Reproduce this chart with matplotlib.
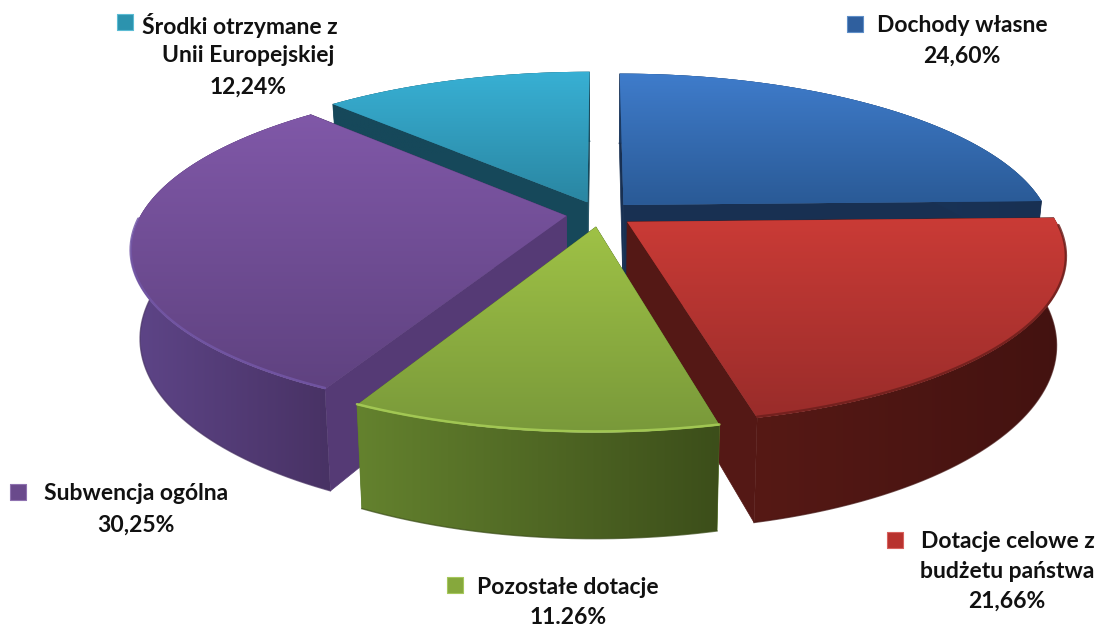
import numpy as np
import matplotlib
matplotlib.use("Agg")
import matplotlib.pyplot as plt
from matplotlib.colors import LinearSegmentedColormap, to_rgb
from matplotlib.patches import Polygon
from matplotlib.path import Path
from matplotlib.transforms import Transform, Affine2D

# ---- data ----
categories = ["Dochody własne", "Dotacje celowe z\nbudżetu państwa", "Pozostałe dotacje",
              "Subwencja ogólna", "Środki otrzymane z\nUnii Europejskiej"]
values = [24.60, 21.66, 11.26, 30.25, 12.24]
value_labels = ["24,60%", "21,66%", "11.26%", "30,25%", "12,24%"]
explode = [0.08, 0.08, 0.08, 0.08, 0.08]

# ---- style ----
W, H = 1101, 627
top_colors = [("#3f7ccb", "#2a5a96"), ("#ca3b36", "#992c2a"), ("#9fc246", "#79993a"),
              ("#8058a8", "#5f4280"), ("#38b0d4", "#2a86a2")]
radial_colors = ["#183052", "#541815", "#5a7a2a", "#553a75", "#16485a"]
outer_colors = [("#1c3a62", "#183052"), ("#561915", "#431210"), ("#64822e", "#3c4e1a"),
                ("#5e4588", "#483264"), ("#16485a", "#16485a")]
rim_colors = ["#4a88d0", "#6e1f1c", "#a9cf58", "#7357a6", "#44bcdc"]
key_colors = ["#2f5f9e", "#b8322e", "#86a83c", "#6a4a8c", "#2c93ae"]
key_edges = ["#5f8fc8", "#d8625e", "#a6c85c", "#8f72b0", "#5cbcd4"]
CX, CY, RX, RY, K, DEPTH = 600.0, 214.0, 425.0, 160.0, 0.194, 84.0
BOTTOM_SHRINK = 0.98

key_xy = [(855, 24), (895, 540), (455, 585), (18, 492), (125, 22)]
# first-line x, other-lines x, first-line y, line step
label_pos = [(962, 962, 26, 30), (1008, 1007, 541, 30), (568, 568, 588, 30),
             (136, 136, 494, 31), (240, 248, 25, 31)]
FONT = "Lato"


def project(x, y, z=0.0):
    x, y = np.asarray(x, float), np.asarray(y, float)
    w = 1 + K * y
    s = 1 - (1 - BOTTOM_SHRINK) * z
    return CX + s * RX * x / w, CY - RY * y / w + DEPTH * z / w


class Perspective(Transform):
    input_dims = output_dims = 2
    is_affine = False
    has_inverse = False

    def transform_non_affine(self, values):
        sx, sy = project(values[:, 0], values[:, 1])
        return np.column_stack([sx, sy])

    def transform_path_non_affine(self, path):
        polys = path.transformed(Affine2D().scale(2000)).to_polygons()
        v = np.vstack(polys) / 2000.0
        return Path(self.transform_non_affine(v), closed=True)


def cmap2(a, b):
    return LinearSegmentedColormap.from_list("g", [to_rgb(a), to_rgb(b)])


def gradient_fill(ax, clip, x0, x1, y0, y1, a, b, vertical, z):
    arr = np.linspace(0, 1, 256)
    arr = arr[:, None] if vertical else arr[None, :]
    im = ax.imshow(arr, cmap=cmap2(a, b), extent=(x0, x1, y1, y0), origin="upper",
                   aspect="auto", zorder=z, interpolation="bilinear")
    im.set_clip_path(clip)
    return im


fig = plt.figure(figsize=(W / 100, H / 100), dpi=100)
ax = fig.add_axes([0, 0, 1, 1])
wedges, _ = ax.pie(values, explode=explode, startangle=90, counterclock=False, radius=1.0)
ax.set_aspect("auto")
ax.set_xlim(0, W)
ax.set_ylim(H, 0)
ax.axis("off")

persp = Perspective()
order = [4, 0, 3, 1, 2]  # painter's order, back to front
for rank, i in enumerate(order):
    wd = wedges[i]
    base = 10 + rank * 10
    th = np.radians(np.linspace(wd.theta1, wd.theta2, 160))
    ox, oy = wd.center[0] + wd.r * np.cos(th), wd.center[1] + wd.r * np.sin(th)
    cxw, cyw = wd.center
    tx, ty = project(ox, oy, 0)
    bx, by = project(ox, oy, 1)
    apx, apy = project(cxw, cyw, 0)
    abx, aby = project(cxw, cyw, 1)

    # flat radial walls
    for e in (0, -1):
        poly = Polygon([(apx, apy), (tx[e], ty[e]), (bx[e], by[e]), (abx, aby)],
                       closed=True, fc=radial_colors[i], ec=radial_colors[i], lw=0.5,
                       zorder=base + 1)
        ax.add_patch(poly)

    # curved outer wall, shaded left to right
    pts = np.column_stack([np.r_[tx, bx[::-1]], np.r_[ty, by[::-1]]])
    wall = Polygon(pts, closed=True, fc="none", ec="none", zorder=base + 2)
    ax.add_patch(wall)
    a, b = outer_colors[i]
    gradient_fill(ax, wall, pts[:, 0].min(), pts[:, 0].max(), pts[:, 1].min(), pts[:, 1].max(),
                  a, b, False, base + 2)
    ax.plot(bx, by, color=outer_colors[i][1], lw=1.0, alpha=0.7, zorder=base + 2.5)

    # top face: the pie wedge itself, pushed through the perspective
    wd.set_transform(persp + ax.transData)
    wd.set_facecolor(top_colors[i][1])
    wd.set_edgecolor("none")
    wd.set_zorder(base + 3)
    a, b = top_colors[i]
    xs = np.r_[tx, apx]
    ys = np.r_[ty, apy]
    gradient_fill(ax, wd, xs.min(), xs.max(), ys.min(), ys.max(), a, b, True, base + 4)

    # bevel highlight along the rim (only on the facing part)
    front = np.sin(th) < -0.02
    if front.any():
        ax.plot(np.where(front, tx, np.nan), np.where(front, ty, np.nan) - 1,
                color=rim_colors[i], lw=1.8, alpha=0.85, zorder=base + 5,
                solid_capstyle="round")

ax.set_xlim(0, W)
ax.set_ylim(H, 0)
ax.set_aspect("auto")

for i in range(len(categories)):
    kx, ky = key_xy[i]
    ax.scatter([kx], [ky], marker="s", s=125, color=key_colors[i], edgecolors=key_edges[i],
               linewidths=0.8, zorder=100)
    x0, x1, ly, step = label_pos[i]
    lines = categories[i].split("\n") + [value_labels[i]]
    for n, line in enumerate(lines):
        ax.text(x0 if n == 0 else x1, ly + n * step, line, ha="center", va="center",
                family=FONT, weight="bold", fontsize=16.5, color="#111111", zorder=101)

fig.savefig("out.png", dpi=100, facecolor="white")
